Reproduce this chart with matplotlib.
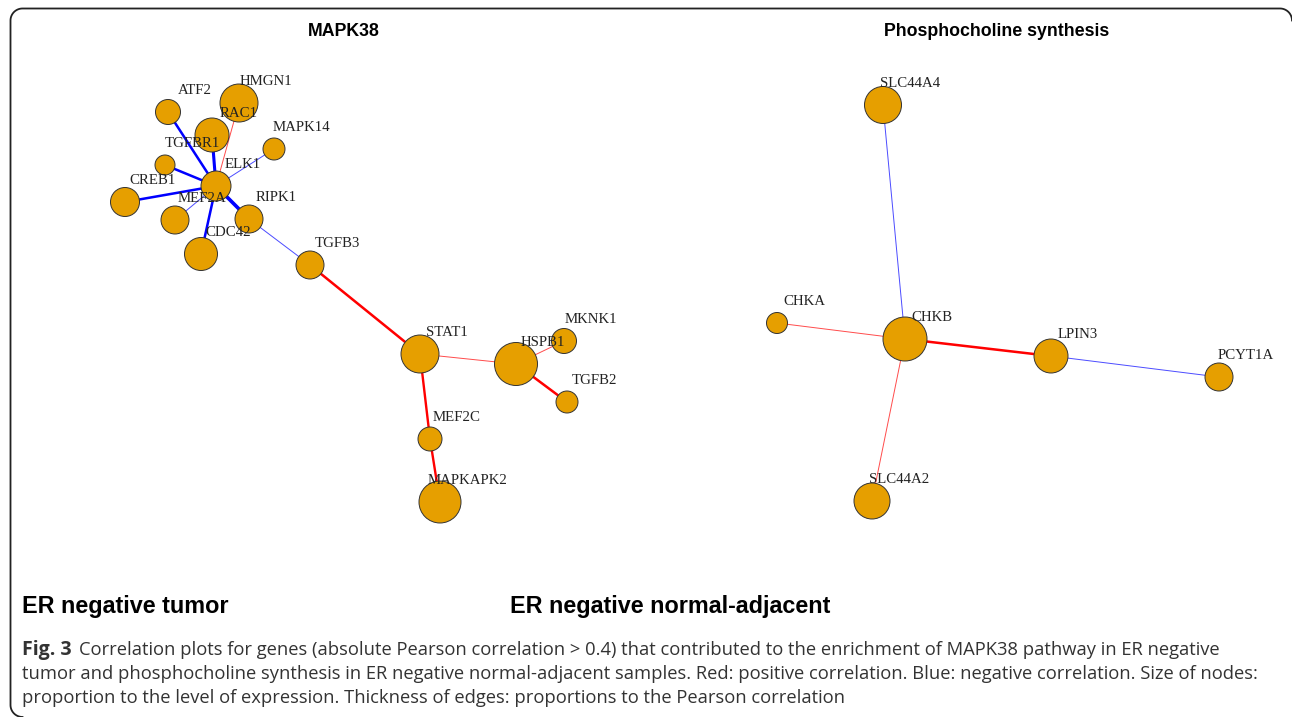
import matplotlib
matplotlib.use("Agg")
import matplotlib.pyplot as plt
import numpy as np
from matplotlib.lines import Line2D

# ---------------------------------------------------------------- network data (layout in px)
left_nodes = ["ATF2", "HMGN1", "RAC1", "TGFBR1", "ELK1", "MAPK14", "CREB1", "MEF2A",
              "RIPK1", "CDC42", "TGFB3", "STAT1", "HSPB1", "MKNK1", "TGFB2", "MEF2C", "MAPKAPK2"]
left_x = [168, 239, 212, 165, 216, 274, 125, 175, 249, 201, 310, 420, 516, 564, 567, 430, 440]
left_y = [112, 103, 135, 165, 186, 149, 202, 220, 219, 254, 265, 354, 364, 341, 402, 439, 502]
left_size = [12.5, 19, 17, 10, 15, 11, 14.5, 14, 14, 16.5, 14, 19, 21.5, 12.5, 11, 12, 21]
left_src = ["ATF2", "HMGN1", "RAC1", "MAPK14", "TGFBR1", "CREB1", "MEF2A", "RIPK1", "CDC42",
            "RIPK1", "TGFB3", "STAT1", "HSPB1", "HSPB1", "STAT1", "MEF2C"]
left_dst = ["ELK1", "ELK1", "ELK1", "ELK1", "ELK1", "ELK1", "ELK1", "ELK1", "ELK1",
            "TGFB3", "STAT1", "HSPB1", "MKNK1", "TGFB2", "MEF2C", "MAPKAPK2"]
left_corr = [-0.56, 0.45, -0.60, -0.45, -0.56, -0.56, -0.45, -0.64, -0.56,
             -0.45, 0.56, 0.45, 0.45, 0.56, 0.55, 0.55]

right_nodes = ["SLC44A4", "CHKA", "CHKB", "LPIN3", "PCYT1A", "SLC44A2"]
right_x = [883, 777, 905, 1051, 1219, 872]
right_y = [105, 323, 339, 356, 377, 501]
right_size = [18.5, 10.5, 22, 17, 14, 18]
right_src = ["SLC44A4", "CHKA", "CHKB", "LPIN3", "CHKB"]
right_dst = ["CHKB", "CHKB", "LPIN3", "PCYT1A", "SLC44A2"]
right_corr = [-0.45, 0.45, 0.56, -0.45, 0.45]

PX = 0.72  # points per pixel at dpi 100
NODE_COL = "#E69F00"
W, H = 1292, 717

fig = plt.figure(figsize=(W / 100, H / 100), dpi=100)
ax = fig.add_axes([0, 0, 1, 1])
ax.set_xlim(0, W)
ax.set_ylim(H, 0)
ax.axis("off")


def draw_net(names, xs, ys, sizes, src, dst, corr):
    pos = {n: (x, y) for n, x, y in zip(names, xs, ys)}
    for a, b, r in zip(src, dst, corr):
        lw = max((abs(r) - 0.38) * 14, 0.9) * PX
        col = "#FF0000" if r > 0 else "#0000FF"
        alpha = 0.7 if abs(r) < 0.5 else 1.0
        ax.plot([pos[a][0], pos[b][0]], [pos[a][1], pos[b][1]], color=col, lw=lw,
                alpha=alpha, zorder=1, solid_capstyle="butt")
    ax.scatter(xs, ys, s=[(2 * r * PX) ** 2 for r in sizes], color=NODE_COL,
               edgecolors="#333333", linewidths=0.7, zorder=2)
    for n, x, y in zip(names, xs, ys):
        ax.annotate(n, (x, y), xytext=(19.5, 15.5), textcoords="offset points",
                    ha="center", va="center", fontsize=10.7, family="Liberation Serif",
                    color="#222222", zorder=3)


draw_net(left_nodes, left_x, left_y, left_size, left_src, left_dst, left_corr)
draw_net(right_nodes, right_x, right_y, right_size, right_src, right_dst, right_corr)

# panel titles
ax.text(344, 32, "MAPK38", ha="center", va="center", fontsize=12.8, weight="bold",
        family="Liberation Sans")
ax.text(997, 32, "Phosphocholine synthesis", ha="center", va="center", fontsize=12.8,
        weight="bold", family="Liberation Sans")
ax.text(22, 607, "ER negative tumor", ha="left", va="center", fontsize=16.8, weight="bold",
        family="Liberation Sans")
ax.text(510, 607, "ER negative normal-adjacent", ha="left", va="center", fontsize=16.8,
        weight="bold", family="Liberation Sans")

# caption
cap_kw = dict(fontsize=13.25, family="Open Sans", color="#333333")
fig_lbl = ax.text(22, 650, "Fig. 3", ha="left", va="center", weight="bold",
                  **dict(cap_kw, fontsize=14))
ax.annotate("Correlation plots for genes (absolute Pearson correlation > 0.4) that contributed "
            "to the enrichment of MAPK38 pathway in ER negative",
            xy=(1, 0.5), xycoords=fig_lbl, xytext=(5, 0), textcoords="offset points",
            ha="left", va="center", **cap_kw)
ax.text(22, 674, "tumor and phosphocholine synthesis in ER negative normal-adjacent samples. "
        "Red: positive correlation. Blue: negative correlation. Size of nodes:",
        ha="left", va="center", **cap_kw)
ax.text(22, 698, "proportion to the level of expression. Thickness of edges: proportions to "
        "the Pearson correlation", ha="left", va="center", **cap_kw)

# frame: left edge + top edge with rounded corners (pixel coords, y down)
rad = 12
t1 = np.linspace(np.pi / 2, np.pi, 20)           # bottom-left corner
t2 = np.linspace(np.pi, 1.5 * np.pi, 20)         # top-left corner
t3 = np.linspace(1.5 * np.pi, 2 * np.pi, 20)     # top-right corner
fx = np.concatenate([22.5 + rad * np.cos(t1), 22.5 + rad * np.cos(t2), 1280 + rad * np.cos(t3)])
fy = np.concatenate([705 + rad * np.sin(t1), 20.5 + rad * np.sin(t2), 20.5 + rad * np.sin(t3)])
fig.add_artist(Line2D(fx / W, 1 - fy / H, transform=fig.transFigure, color="#222222", lw=1.3))

fig.savefig("out.png", dpi=100)
